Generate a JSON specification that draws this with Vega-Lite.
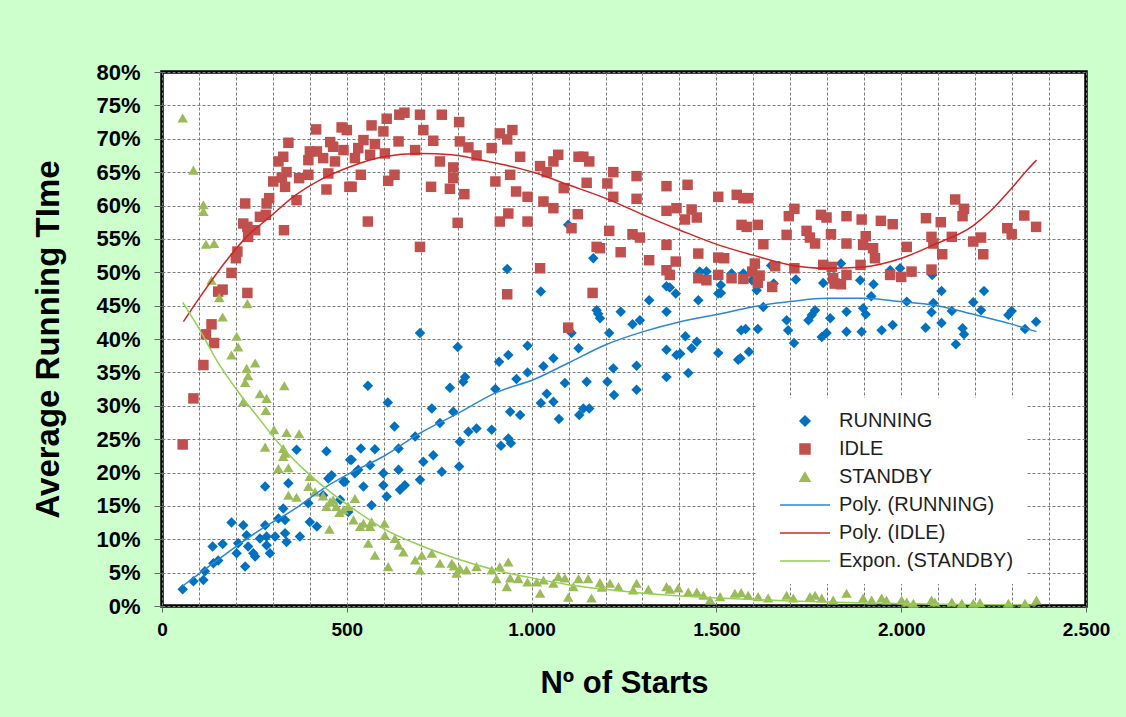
{
  "$schema": "https://vega.github.io/schema/vega-lite/v6.json",
  "autosize": "none",
  "width": 924,
  "height": 534,
  "padding": {"left": 162, "top": 72, "right": 40, "bottom": 111},
  "background": "#CCFFCC",
  "config": {
    "view": {"fill": "white", "stroke": "black", "strokeWidth": 3.5},
    "font": "Liberation Sans"
  },
  "datasets": {
    "pts": [
      {"series":"RUNNING","x":56,"y":2.5},{"series":"RUNNING","x":85,"y":3.7},{"series":"RUNNING","x":112,"y":3.9},{"series":"RUNNING","x":116,"y":5.2},{"series":"RUNNING","x":139,"y":6.4},{"series":"RUNNING","x":152,"y":6.8},{"series":"RUNNING","x":137,"y":8.9},{"series":"RUNNING","x":164,"y":9.3},{"series":"RUNNING","x":188,"y":12.5},{"series":"RUNNING","x":202,"y":7.9},{"series":"RUNNING","x":206,"y":9.4},{"series":"RUNNING","x":220,"y":12.1},{"series":"RUNNING","x":225,"y":5.9},{"series":"RUNNING","x":229,"y":10.6},{"series":"RUNNING","x":233,"y":8.9},{"series":"RUNNING","x":247,"y":7.9},{"series":"RUNNING","x":252,"y":7.4},{"series":"RUNNING","x":265,"y":10.1},{"series":"RUNNING","x":279,"y":12.1},{"series":"RUNNING","x":283,"y":10.4},{"series":"RUNNING","x":283,"y":9.1},{"series":"RUNNING","x":292,"y":7.9},{"series":"RUNNING","x":306,"y":10.4},{"series":"RUNNING","x":315,"y":13.1},{"series":"RUNNING","x":328,"y":14.6},{"series":"RUNNING","x":333,"y":12.9},{"series":"RUNNING","x":333,"y":10.9},{"series":"RUNNING","x":337,"y":9.6},{"series":"RUNNING","x":342,"y":18.4},{"series":"RUNNING","x":279,"y":17.9},{"series":"RUNNING","x":364,"y":23.4},{"series":"RUNNING","x":373,"y":10.4},{"series":"RUNNING","x":396,"y":15.4},{"series":"RUNNING","x":400,"y":12.6},{"series":"RUNNING","x":419,"y":11.9},{"series":"RUNNING","x":436,"y":16.6},{"series":"RUNNING","x":445,"y":23.2},{"series":"RUNNING","x":450,"y":19.1},{"series":"RUNNING","x":459,"y":19.6},{"series":"RUNNING","x":482,"y":15.9},{"series":"RUNNING","x":491,"y":18.6},{"series":"RUNNING","x":509,"y":21.9},{"series":"RUNNING","x":495,"y":18.6},{"series":"RUNNING","x":504,"y":14.1},{"series":"RUNNING","x":513,"y":21.9},{"series":"RUNNING","x":522,"y":19.9},{"series":"RUNNING","x":531,"y":20.4},{"series":"RUNNING","x":538,"y":23.6},{"series":"RUNNING","x":545,"y":17.9},{"series":"RUNNING","x":557,"y":33.0},{"series":"RUNNING","x":563,"y":21.1},{"series":"RUNNING","x":567,"y":15.1},{"series":"RUNNING","x":576,"y":23.5},{"series":"RUNNING","x":599,"y":19.9},{"series":"RUNNING","x":599,"y":18.1},{"series":"RUNNING","x":608,"y":16.4},{"series":"RUNNING","x":611,"y":30.5},{"series":"RUNNING","x":629,"y":26.9},{"series":"RUNNING","x":640,"y":23.6},{"series":"RUNNING","x":640,"y":20.4},{"series":"RUNNING","x":644,"y":17.4},{"series":"RUNNING","x":657,"y":18.1},{"series":"RUNNING","x":685,"y":25.4},{"series":"RUNNING","x":698,"y":40.9},{"series":"RUNNING","x":698,"y":18.9},{"series":"RUNNING","x":707,"y":21.6},{"series":"RUNNING","x":730,"y":29.6},{"series":"RUNNING","x":734,"y":22.6},{"series":"RUNNING","x":752,"y":27.4},{"series":"RUNNING","x":757,"y":20.1},{"series":"RUNNING","x":779,"y":32.7},{"series":"RUNNING","x":788,"y":29.1},{"series":"RUNNING","x":800,"y":38.8},{"series":"RUNNING","x":806,"y":24.6},{"series":"RUNNING","x":804,"y":20.9},{"series":"RUNNING","x":815,"y":33.6},{"series":"RUNNING","x":820,"y":34.3},{"series":"RUNNING","x":829,"y":26.1},{"series":"RUNNING","x":851,"y":26.6},{"series":"RUNNING","x":892,"y":26.4},{"series":"RUNNING","x":902,"y":32.5},{"series":"RUNNING","x":912,"y":36.6},{"series":"RUNNING","x":917,"y":24.0},{"series":"RUNNING","x":937,"y":37.6},{"series":"RUNNING","x":937,"y":25.1},{"series":"RUNNING","x":944,"y":24.4},{"series":"RUNNING","x":934,"y":50.5},{"series":"RUNNING","x":942,"y":29.1},{"series":"RUNNING","x":959,"y":34.0},{"series":"RUNNING","x":969,"y":28.6},{"series":"RUNNING","x":989,"y":39.0},{"series":"RUNNING","x":989,"y":35.0},{"series":"RUNNING","x":1025,"y":47.1},{"series":"RUNNING","x":1025,"y":30.4},{"series":"RUNNING","x":1032,"y":35.9},{"series":"RUNNING","x":1041,"y":31.8},{"series":"RUNNING","x":1059,"y":30.6},{"series":"RUNNING","x":1059,"y":37.1},{"series":"RUNNING","x":1074,"y":28.0},{"series":"RUNNING","x":1090,"y":33.4},{"series":"RUNNING","x":1099,"y":57.1},{"series":"RUNNING","x":1108,"y":40.9},{"series":"RUNNING","x":1127,"y":38.6},{"series":"RUNNING","x":1129,"y":28.6},{"series":"RUNNING","x":1140,"y":29.6},{"series":"RUNNING","x":1149,"y":33.6},{"series":"RUNNING","x":1156,"y":29.6},{"series":"RUNNING","x":1167,"y":52.1},{"series":"RUNNING","x":1176,"y":44.3},{"series":"RUNNING","x":1185,"y":43.1},{"series":"RUNNING","x":1180,"y":43.8},{"series":"RUNNING","x":1205,"y":33.6},{"series":"RUNNING","x":1210,"y":40.9},{"series":"RUNNING","x":1221,"y":35.6},{"series":"RUNNING","x":1223,"y":31.6},{"series":"RUNNING","x":1241,"y":44.1},{"series":"RUNNING","x":1273,"y":42.2},{"series":"RUNNING","x":1284,"y":36.0},{"series":"RUNNING","x":1284,"y":32.4},{"series":"RUNNING","x":1293,"y":42.8},{"series":"RUNNING","x":1318,"y":45.8},{"series":"RUNNING","x":1365,"y":47.9},{"series":"RUNNING","x":1374,"y":47.7},{"series":"RUNNING","x":1365,"y":44.1},{"series":"RUNNING","x":1365,"y":38.4},{"series":"RUNNING","x":1365,"y":34.3},{"series":"RUNNING","x":1390,"y":46.8},{"series":"RUNNING","x":1392,"y":37.6},{"series":"RUNNING","x":1402,"y":37.8},{"series":"RUNNING","x":1416,"y":40.4},{"series":"RUNNING","x":1424,"y":34.9},{"series":"RUNNING","x":1433,"y":38.6},{"series":"RUNNING","x":1447,"y":39.6},{"series":"RUNNING","x":1451,"y":45.8},{"series":"RUNNING","x":1455,"y":50.1},{"series":"RUNNING","x":1473,"y":50.1},{"series":"RUNNING","x":1505,"y":46.8},{"series":"RUNNING","x":1505,"y":37.9},{"series":"RUNNING","x":1512,"y":48.1},{"series":"RUNNING","x":1512,"y":46.9},{"series":"RUNNING","x":1541,"y":49.8},{"series":"RUNNING","x":1573,"y":49.8},{"series":"RUNNING","x":1559,"y":36.9},{"series":"RUNNING","x":1565,"y":37.1},{"series":"RUNNING","x":1588,"y":38.1},{"series":"RUNNING","x":1567,"y":41.3},{"series":"RUNNING","x":1579,"y":41.5},{"series":"RUNNING","x":1612,"y":41.5},{"series":"RUNNING","x":1596,"y":48.8},{"series":"RUNNING","x":1609,"y":47.3},{"series":"RUNNING","x":1627,"y":44.8},{"series":"RUNNING","x":1648,"y":51.0},{"series":"RUNNING","x":1655,"y":48.3},{"series":"RUNNING","x":1690,"y":42.8},{"series":"RUNNING","x":1694,"y":41.3},{"series":"RUNNING","x":1710,"y":39.4},{"series":"RUNNING","x":1715,"y":48.9},{"series":"RUNNING","x":1749,"y":42.8},{"series":"RUNNING","x":1758,"y":43.6},{"series":"RUNNING","x":1767,"y":44.3},{"series":"RUNNING","x":1785,"y":40.3},{"series":"RUNNING","x":1798,"y":40.9},{"series":"RUNNING","x":1789,"y":48.4},{"series":"RUNNING","x":1808,"y":43.1},{"series":"RUNNING","x":1837,"y":51.3},{"series":"RUNNING","x":1852,"y":44.1},{"series":"RUNNING","x":1852,"y":41.1},{"series":"RUNNING","x":1893,"y":41.1},{"series":"RUNNING","x":1889,"y":48.8},{"series":"RUNNING","x":1897,"y":44.6},{"series":"RUNNING","x":1904,"y":43.7},{"series":"RUNNING","x":1925,"y":48.2},{"series":"RUNNING","x":1919,"y":46.4},{"series":"RUNNING","x":1947,"y":41.3},{"series":"RUNNING","x":1977,"y":42.1},{"series":"RUNNING","x":1970,"y":50.3},{"series":"RUNNING","x":1997,"y":50.6},{"series":"RUNNING","x":2015,"y":45.6},{"series":"RUNNING","x":2028,"y":50.0},{"series":"RUNNING","x":2084,"y":49.6},{"series":"RUNNING","x":2087,"y":45.4},{"series":"RUNNING","x":2082,"y":44.0},{"series":"RUNNING","x":2066,"y":41.7},{"series":"RUNNING","x":2109,"y":47.2},{"series":"RUNNING","x":2109,"y":42.4},{"series":"RUNNING","x":2137,"y":44.2},{"series":"RUNNING","x":2148,"y":39.2},{"series":"RUNNING","x":2166,"y":41.6},{"series":"RUNNING","x":2170,"y":40.7},{"series":"RUNNING","x":2195,"y":45.5},{"series":"RUNNING","x":2216,"y":44.3},{"series":"RUNNING","x":2224,"y":47.2},{"series":"RUNNING","x":2290,"y":43.6},{"series":"RUNNING","x":2299,"y":44.2},{"series":"RUNNING","x":2335,"y":41.5},{"series":"RUNNING","x":2365,"y":42.6},
      {"series":"IDLE","x":56,"y":24.2},{"series":"IDLE","x":85,"y":31.1},{"series":"IDLE","x":112,"y":36.1},{"series":"IDLE","x":119,"y":40.7},{"series":"IDLE","x":134,"y":42.2},{"series":"IDLE","x":141,"y":39.4},{"series":"IDLE","x":152,"y":47.1},{"series":"IDLE","x":164,"y":47.4},{"series":"IDLE","x":188,"y":49.9},{"series":"IDLE","x":200,"y":52.1},{"series":"IDLE","x":204,"y":53.1},{"series":"IDLE","x":231,"y":46.9},{"series":"IDLE","x":220,"y":57.3},{"series":"IDLE","x":231,"y":56.8},{"series":"IDLE","x":225,"y":60.3},{"series":"IDLE","x":233,"y":55.3},{"series":"IDLE","x":252,"y":56.3},{"series":"IDLE","x":265,"y":58.3},{"series":"IDLE","x":281,"y":58.6},{"series":"IDLE","x":283,"y":60.3},{"series":"IDLE","x":290,"y":61.1},{"series":"IDLE","x":330,"y":56.3},{"series":"IDLE","x":301,"y":63.6},{"series":"IDLE","x":315,"y":66.6},{"series":"IDLE","x":328,"y":67.3},{"series":"IDLE","x":342,"y":69.4},{"series":"IDLE","x":324,"y":64.2},{"series":"IDLE","x":337,"y":65.0},{"series":"IDLE","x":333,"y":62.8},{"series":"IDLE","x":364,"y":60.8},{"series":"IDLE","x":371,"y":64.1},{"series":"IDLE","x":396,"y":64.6},{"series":"IDLE","x":396,"y":66.8},{"series":"IDLE","x":400,"y":68.1},{"series":"IDLE","x":417,"y":71.4},{"series":"IDLE","x":419,"y":68.1},{"series":"IDLE","x":436,"y":67.1},{"series":"IDLE","x":445,"y":62.4},{"series":"IDLE","x":450,"y":64.8},{"series":"IDLE","x":455,"y":69.5},{"series":"IDLE","x":463,"y":68.8},{"series":"IDLE","x":468,"y":66.6},{"series":"IDLE","x":486,"y":71.7},{"series":"IDLE","x":491,"y":68.3},{"series":"IDLE","x":507,"y":62.8},{"series":"IDLE","x":500,"y":71.3},{"series":"IDLE","x":513,"y":62.8},{"series":"IDLE","x":522,"y":67.1},{"series":"IDLE","x":531,"y":68.6},{"series":"IDLE","x":545,"y":69.8},{"series":"IDLE","x":538,"y":64.6},{"series":"IDLE","x":557,"y":57.6},{"series":"IDLE","x":563,"y":67.6},{"series":"IDLE","x":567,"y":72.0},{"series":"IDLE","x":576,"y":69.2},{"series":"IDLE","x":599,"y":71.1},{"series":"IDLE","x":603,"y":67.8},{"series":"IDLE","x":608,"y":73.0},{"series":"IDLE","x":612,"y":63.7},{"series":"IDLE","x":629,"y":64.6},{"series":"IDLE","x":640,"y":69.6},{"series":"IDLE","x":642,"y":73.6},{"series":"IDLE","x":656,"y":73.9},{"series":"IDLE","x":685,"y":68.3},{"series":"IDLE","x":698,"y":73.6},{"series":"IDLE","x":698,"y":53.8},{"series":"IDLE","x":707,"y":71.3},{"series":"IDLE","x":728,"y":62.8},{"series":"IDLE","x":734,"y":69.7},{"series":"IDLE","x":752,"y":66.6},{"series":"IDLE","x":757,"y":73.6},{"series":"IDLE","x":779,"y":62.5},{"series":"IDLE","x":788,"y":65.7},{"series":"IDLE","x":788,"y":64.1},{"series":"IDLE","x":800,"y":57.4},{"series":"IDLE","x":804,"y":72.5},{"series":"IDLE","x":806,"y":69.6},{"series":"IDLE","x":818,"y":61.7},{"series":"IDLE","x":829,"y":68.7},{"series":"IDLE","x":851,"y":67.5},{"series":"IDLE","x":892,"y":68.6},{"series":"IDLE","x":902,"y":63.6},{"series":"IDLE","x":914,"y":70.8},{"series":"IDLE","x":914,"y":57.6},{"series":"IDLE","x":934,"y":69.9},{"series":"IDLE","x":942,"y":64.6},{"series":"IDLE","x":937,"y":58.8},{"series":"IDLE","x":934,"y":46.7},{"series":"IDLE","x":948,"y":71.3},{"series":"IDLE","x":958,"y":62.1},{"series":"IDLE","x":969,"y":67.3},{"series":"IDLE","x":989,"y":61.3},{"series":"IDLE","x":989,"y":57.6},{"series":"IDLE","x":1023,"y":65.9},{"series":"IDLE","x":1023,"y":50.6},{"series":"IDLE","x":1032,"y":60.6},{"series":"IDLE","x":1041,"y":65.0},{"series":"IDLE","x":1059,"y":66.6},{"series":"IDLE","x":1059,"y":59.6},{"series":"IDLE","x":1072,"y":67.6},{"series":"IDLE","x":1087,"y":62.6},{"series":"IDLE","x":1099,"y":41.7},{"series":"IDLE","x":1108,"y":56.6},{"series":"IDLE","x":1125,"y":58.7},{"series":"IDLE","x":1127,"y":67.3},{"series":"IDLE","x":1140,"y":67.3},{"series":"IDLE","x":1156,"y":66.6},{"series":"IDLE","x":1149,"y":63.4},{"series":"IDLE","x":1165,"y":46.9},{"series":"IDLE","x":1176,"y":53.8},{"series":"IDLE","x":1185,"y":53.6},{"series":"IDLE","x":1205,"y":63.3},{"series":"IDLE","x":1210,"y":56.2},{"series":"IDLE","x":1221,"y":65.0},{"series":"IDLE","x":1221,"y":61.3},{"series":"IDLE","x":1241,"y":53.0},{"series":"IDLE","x":1273,"y":55.7},{"series":"IDLE","x":1284,"y":64.4},{"series":"IDLE","x":1284,"y":61.0},{"series":"IDLE","x":1293,"y":55.2},{"series":"IDLE","x":1318,"y":51.8},{"series":"IDLE","x":1365,"y":62.9},{"series":"IDLE","x":1365,"y":59.2},{"series":"IDLE","x":1365,"y":54.1},{"series":"IDLE","x":1365,"y":50.3},{"series":"IDLE","x":1374,"y":49.6},{"series":"IDLE","x":1392,"y":59.6},{"series":"IDLE","x":1390,"y":51.6},{"series":"IDLE","x":1415,"y":57.9},{"series":"IDLE","x":1422,"y":63.1},{"series":"IDLE","x":1433,"y":59.4},{"series":"IDLE","x":1447,"y":58.2},{"series":"IDLE","x":1451,"y":52.8},{"series":"IDLE","x":1451,"y":49.1},{"series":"IDLE","x":1473,"y":48.8},{"series":"IDLE","x":1505,"y":61.3},{"series":"IDLE","x":1505,"y":52.2},{"series":"IDLE","x":1505,"y":49.6},{"series":"IDLE","x":1555,"y":61.6},{"series":"IDLE","x":1573,"y":61.1},{"series":"IDLE","x":1586,"y":61.1},{"series":"IDLE","x":1568,"y":57.1},{"series":"IDLE","x":1582,"y":56.8},{"series":"IDLE","x":1612,"y":57.1},{"series":"IDLE","x":1627,"y":54.2},{"series":"IDLE","x":1521,"y":52.1},{"series":"IDLE","x":1541,"y":49.1},{"series":"IDLE","x":1573,"y":49.0},{"series":"IDLE","x":1597,"y":50.1},{"series":"IDLE","x":1604,"y":51.3},{"series":"IDLE","x":1612,"y":48.4},{"series":"IDLE","x":1617,"y":49.5},{"series":"IDLE","x":1651,"y":47.8},{"series":"IDLE","x":1659,"y":50.9},{"series":"IDLE","x":1690,"y":55.6},{"series":"IDLE","x":1696,"y":58.4},{"series":"IDLE","x":1711,"y":59.5},{"series":"IDLE","x":1711,"y":50.6},{"series":"IDLE","x":1744,"y":56.2},{"series":"IDLE","x":1753,"y":55.2},{"series":"IDLE","x":1767,"y":54.3},{"series":"IDLE","x":1783,"y":58.6},{"series":"IDLE","x":1798,"y":58.2},{"series":"IDLE","x":1810,"y":55.7},{"series":"IDLE","x":1789,"y":51.1},{"series":"IDLE","x":1812,"y":50.8},{"series":"IDLE","x":1816,"y":49.1},{"series":"IDLE","x":1820,"y":48.3},{"series":"IDLE","x":1837,"y":48.2},{"series":"IDLE","x":1852,"y":58.4},{"series":"IDLE","x":1852,"y":54.3},{"series":"IDLE","x":1852,"y":49.6},{"series":"IDLE","x":1890,"y":51.1},{"series":"IDLE","x":1893,"y":57.9},{"series":"IDLE","x":1904,"y":55.4},{"series":"IDLE","x":1897,"y":54.1},{"series":"IDLE","x":1924,"y":53.6},{"series":"IDLE","x":1929,"y":52.1},{"series":"IDLE","x":1945,"y":57.7},{"series":"IDLE","x":1977,"y":57.2},{"series":"IDLE","x":1970,"y":49.6},{"series":"IDLE","x":2000,"y":49.3},{"series":"IDLE","x":2015,"y":53.8},{"series":"IDLE","x":2028,"y":50.1},{"series":"IDLE","x":2067,"y":58.1},{"series":"IDLE","x":2082,"y":55.3},{"series":"IDLE","x":2087,"y":54.3},{"series":"IDLE","x":2082,"y":50.4},{"series":"IDLE","x":2107,"y":57.5},{"series":"IDLE","x":2111,"y":52.7},{"series":"IDLE","x":2137,"y":55.3},{"series":"IDLE","x":2146,"y":60.9},{"series":"IDLE","x":2170,"y":59.5},{"series":"IDLE","x":2166,"y":58.4},{"series":"IDLE","x":2195,"y":54.6},{"series":"IDLE","x":2216,"y":55.2},{"series":"IDLE","x":2222,"y":52.7},{"series":"IDLE","x":2287,"y":56.6},{"series":"IDLE","x":2299,"y":55.7},{"series":"IDLE","x":2333,"y":58.5},{"series":"IDLE","x":2365,"y":56.8},
      {"series":"STANDBY","x":56,"y":73.1},{"series":"STANDBY","x":85,"y":65.3},{"series":"STANDBY","x":112,"y":60.1},{"series":"STANDBY","x":112,"y":59.1},{"series":"STANDBY","x":119,"y":54.2},{"series":"STANDBY","x":141,"y":54.3},{"series":"STANDBY","x":134,"y":48.8},{"series":"STANDBY","x":155,"y":46.2},{"series":"STANDBY","x":164,"y":43.3},{"series":"STANDBY","x":231,"y":45.3},{"series":"STANDBY","x":202,"y":40.4},{"series":"STANDBY","x":206,"y":38.8},{"series":"STANDBY","x":188,"y":37.6},{"series":"STANDBY","x":229,"y":35.6},{"series":"STANDBY","x":252,"y":36.4},{"series":"STANDBY","x":225,"y":33.5},{"series":"STANDBY","x":233,"y":34.5},{"series":"STANDBY","x":220,"y":30.6},{"series":"STANDBY","x":265,"y":31.8},{"series":"STANDBY","x":283,"y":31.1},{"series":"STANDBY","x":281,"y":29.3},{"series":"STANDBY","x":331,"y":33.0},{"series":"STANDBY","x":303,"y":26.4},{"series":"STANDBY","x":337,"y":26.0},{"series":"STANDBY","x":371,"y":25.8},{"series":"STANDBY","x":279,"y":23.8},{"series":"STANDBY","x":328,"y":23.6},{"series":"STANDBY","x":328,"y":22.4},{"series":"STANDBY","x":333,"y":22.9},{"series":"STANDBY","x":315,"y":20.6},{"series":"STANDBY","x":342,"y":20.7},{"series":"STANDBY","x":400,"y":19.4},{"series":"STANDBY","x":396,"y":17.9},{"series":"STANDBY","x":342,"y":16.6},{"series":"STANDBY","x":364,"y":16.3},{"series":"STANDBY","x":414,"y":17.1},{"series":"STANDBY","x":436,"y":16.5},{"series":"STANDBY","x":455,"y":15.6},{"series":"STANDBY","x":463,"y":15.9},{"series":"STANDBY","x":445,"y":14.9},{"series":"STANDBY","x":472,"y":14.9},{"series":"STANDBY","x":491,"y":14.4},{"series":"STANDBY","x":453,"y":11.5},{"series":"STANDBY","x":480,"y":14.0},{"series":"STANDBY","x":504,"y":14.9},{"series":"STANDBY","x":522,"y":16.1},{"series":"STANDBY","x":518,"y":12.9},{"series":"STANDBY","x":536,"y":11.9},{"series":"STANDBY","x":545,"y":12.4},{"series":"STANDBY","x":563,"y":11.9},{"series":"STANDBY","x":567,"y":12.6},{"series":"STANDBY","x":558,"y":9.4},{"series":"STANDBY","x":576,"y":7.6},{"series":"STANDBY","x":602,"y":12.4},{"series":"STANDBY","x":603,"y":10.6},{"series":"STANDBY","x":612,"y":5.9},{"series":"STANDBY","x":630,"y":10.1},{"series":"STANDBY","x":640,"y":9.1},{"series":"STANDBY","x":653,"y":8.1},{"series":"STANDBY","x":685,"y":6.9},{"series":"STANDBY","x":698,"y":5.4},{"series":"STANDBY","x":703,"y":7.6},{"series":"STANDBY","x":730,"y":7.9},{"series":"STANDBY","x":752,"y":6.4},{"series":"STANDBY","x":784,"y":6.4},{"series":"STANDBY","x":797,"y":4.9},{"series":"STANDBY","x":790,"y":6.0},{"series":"STANDBY","x":806,"y":5.6},{"series":"STANDBY","x":824,"y":5.4},{"series":"STANDBY","x":851,"y":5.9},{"series":"STANDBY","x":892,"y":5.4},{"series":"STANDBY","x":905,"y":4.1},{"series":"STANDBY","x":914,"y":5.9},{"series":"STANDBY","x":937,"y":6.6},{"series":"STANDBY","x":933,"y":2.9},{"series":"STANDBY","x":942,"y":4.2},{"series":"STANDBY","x":964,"y":4.1},{"series":"STANDBY","x":989,"y":3.6},{"series":"STANDBY","x":1014,"y":3.6},{"series":"STANDBY","x":1032,"y":3.9},{"series":"STANDBY","x":1023,"y":1.9},{"series":"STANDBY","x":1059,"y":3.4},{"series":"STANDBY","x":1072,"y":4.4},{"series":"STANDBY","x":1090,"y":4.2},{"series":"STANDBY","x":1099,"y":1.3},{"series":"STANDBY","x":1113,"y":2.9},{"series":"STANDBY","x":1127,"y":4.1},{"series":"STANDBY","x":1153,"y":4.1},{"series":"STANDBY","x":1162,"y":1.2},{"series":"STANDBY","x":1185,"y":3.5},{"series":"STANDBY","x":1190,"y":2.8},{"series":"STANDBY","x":1212,"y":3.4},{"series":"STANDBY","x":1235,"y":2.9},{"series":"STANDBY","x":1275,"y":2.4},{"series":"STANDBY","x":1284,"y":3.4},{"series":"STANDBY","x":1316,"y":2.5},{"series":"STANDBY","x":1365,"y":2.9},{"series":"STANDBY","x":1374,"y":2.5},{"series":"STANDBY","x":1397,"y":2.7},{"series":"STANDBY","x":1424,"y":2.1},{"series":"STANDBY","x":1447,"y":2.1},{"series":"STANDBY","x":1465,"y":1.6},{"series":"STANDBY","x":1483,"y":0.9},{"series":"STANDBY","x":1510,"y":1.4},{"series":"STANDBY","x":1550,"y":1.9},{"series":"STANDBY","x":1567,"y":2.0},{"series":"STANDBY","x":1586,"y":1.6},{"series":"STANDBY","x":1613,"y":1.4},{"series":"STANDBY","x":1640,"y":1.2},{"series":"STANDBY","x":1690,"y":1.6},{"series":"STANDBY","x":1708,"y":1.2},{"series":"STANDBY","x":1753,"y":1.4},{"series":"STANDBY","x":1767,"y":1.6},{"series":"STANDBY","x":1785,"y":1.2},{"series":"STANDBY","x":1816,"y":0.9},{"series":"STANDBY","x":1852,"y":1.9},{"series":"STANDBY","x":1897,"y":1.2},{"series":"STANDBY","x":1920,"y":0.9},{"series":"STANDBY","x":1947,"y":1.2},{"series":"STANDBY","x":1960,"y":0.9},{"series":"STANDBY","x":2001,"y":0.9},{"series":"STANDBY","x":2015,"y":0.6},{"series":"STANDBY","x":2033,"y":0.4},{"series":"STANDBY","x":2082,"y":0.9},{"series":"STANDBY","x":2091,"y":0.6},{"series":"STANDBY","x":2137,"y":0.6},{"series":"STANDBY","x":2164,"y":0.4},{"series":"STANDBY","x":2195,"y":0.4},{"series":"STANDBY","x":2213,"y":0.5},{"series":"STANDBY","x":2290,"y":0.4},{"series":"STANDBY","x":2335,"y":0.4},{"series":"STANDBY","x":2366,"y":0.9}
    ],
    "trend": [
      {"series":"Poly. (RUNNING)","x":56,"y":3.0},{"series":"Poly. (RUNNING)","x":175,"y":7.9},{"series":"Poly. (RUNNING)","x":265,"y":11.4},{"series":"Poly. (RUNNING)","x":355,"y":14.4},{"series":"Poly. (RUNNING)","x":445,"y":17.9},{"series":"Poly. (RUNNING)","x":509,"y":19.9},{"series":"Poly. (RUNNING)","x":599,"y":22.4},{"series":"Poly. (RUNNING)","x":698,"y":25.9},{"series":"Poly. (RUNNING)","x":802,"y":28.9},{"series":"Poly. (RUNNING)","x":901,"y":31.9},{"series":"Poly. (RUNNING)","x":1009,"y":34.0},{"series":"Poly. (RUNNING)","x":1099,"y":36.4},{"series":"Poly. (RUNNING)","x":1199,"y":39.1},{"series":"Poly. (RUNNING)","x":1302,"y":41.1},{"series":"Poly. (RUNNING)","x":1402,"y":42.6},{"series":"Poly. (RUNNING)","x":1505,"y":43.7},{"series":"Poly. (RUNNING)","x":1596,"y":44.8},{"series":"Poly. (RUNNING)","x":1699,"y":45.6},{"series":"Poly. (RUNNING)","x":1798,"y":46.1},{"series":"Poly. (RUNNING)","x":1897,"y":46.1},{"series":"Poly. (RUNNING)","x":2001,"y":45.6},{"series":"Poly. (RUNNING)","x":2087,"y":45.1},{"series":"Poly. (RUNNING)","x":2195,"y":43.7},{"series":"Poly. (RUNNING)","x":2294,"y":42.3},{"series":"Poly. (RUNNING)","x":2366,"y":41.1},
      {"series":"Poly. (IDLE)","x":58,"y":42.6},{"series":"Poly. (IDLE)","x":103,"y":46.3},{"series":"Poly. (IDLE)","x":175,"y":51.8},{"series":"Poly. (IDLE)","x":229,"y":55.3},{"series":"Poly. (IDLE)","x":292,"y":58.3},{"series":"Poly. (IDLE)","x":355,"y":61.3},{"series":"Poly. (IDLE)","x":427,"y":63.8},{"series":"Poly. (IDLE)","x":509,"y":65.8},{"series":"Poly. (IDLE)","x":599,"y":67.3},{"series":"Poly. (IDLE)","x":698,"y":67.8},{"series":"Poly. (IDLE)","x":784,"y":67.6},{"series":"Poly. (IDLE)","x":856,"y":66.9},{"series":"Poly. (IDLE)","x":1009,"y":64.9},{"series":"Poly. (IDLE)","x":1099,"y":63.1},{"series":"Poly. (IDLE)","x":1199,"y":61.1},{"series":"Poly. (IDLE)","x":1302,"y":58.6},{"series":"Poly. (IDLE)","x":1402,"y":56.3},{"series":"Poly. (IDLE)","x":1505,"y":54.1},{"series":"Poly. (IDLE)","x":1596,"y":52.6},{"series":"Poly. (IDLE)","x":1699,"y":51.1},{"series":"Poly. (IDLE)","x":1798,"y":50.6},{"series":"Poly. (IDLE)","x":1897,"y":50.8},{"series":"Poly. (IDLE)","x":2001,"y":52.1},{"series":"Poly. (IDLE)","x":2087,"y":54.1},{"series":"Poly. (IDLE)","x":2195,"y":57.0},{"series":"Poly. (IDLE)","x":2240,"y":59.1},{"series":"Poly. (IDLE)","x":2294,"y":62.3},{"series":"Poly. (IDLE)","x":2344,"y":65.5},{"series":"Poly. (IDLE)","x":2366,"y":66.8},
      {"series":"Expon. (STANDBY)","x":56,"y":45.5},{"series":"Expon. (STANDBY)","x":103,"y":41.3},{"series":"Expon. (STANDBY)","x":148,"y":36.8},{"series":"Expon. (STANDBY)","x":202,"y":32.4},{"series":"Expon. (STANDBY)","x":265,"y":27.9},{"series":"Expon. (STANDBY)","x":328,"y":23.6},{"series":"Expon. (STANDBY)","x":391,"y":20.1},{"series":"Expon. (STANDBY)","x":455,"y":17.1},{"series":"Expon. (STANDBY)","x":509,"y":14.9},{"series":"Expon. (STANDBY)","x":599,"y":11.6},{"series":"Expon. (STANDBY)","x":698,"y":9.1},{"series":"Expon. (STANDBY)","x":802,"y":7.0},{"series":"Expon. (STANDBY)","x":901,"y":5.4},{"series":"Expon. (STANDBY)","x":1009,"y":4.1},{"series":"Expon. (STANDBY)","x":1099,"y":3.2},{"series":"Expon. (STANDBY)","x":1199,"y":2.5},{"series":"Expon. (STANDBY)","x":1302,"y":1.9},{"series":"Expon. (STANDBY)","x":1402,"y":1.5},{"series":"Expon. (STANDBY)","x":1505,"y":1.2},{"series":"Expon. (STANDBY)","x":1700,"y":0.75},{"series":"Expon. (STANDBY)","x":1900,"y":0.45},{"series":"Expon. (STANDBY)","x":2100,"y":0.28},{"series":"Expon. (STANDBY)","x":2366,"y":0.15}
    ]
  },
  "encoding": {
    "x": {
      "field": "x", "type": "quantitative",
      "scale": {"domain": [0, 2500], "nice": false, "zero": false},
      "axis": {
        "values": [0,100,200,300,400,500,600,700,800,900,1000,1100,1200,1300,1400,1500,1600,1700,1800,1900,2000,2100,2200,2300,2400,2500],
        "labelExpr": "datum.value % 500 === 0 ? replace(format(datum.value, ','), ',', '.') : ''",
        "labelOverlap": false, "labelFlush": false, "labelBound": false,
        "labelFont": "Liberation Sans", "labelFontSize": 19, "labelFontWeight": "bold", "labelColor": "black",
        "labelPadding": 8,
        "tickSize": 6, "tickColor": "#666",
        "tickOpacity": {"condition": {"test": "datum.value % 500 === 0", "value": 1}, "value": 0},
        "grid": true, "gridColor": "#7a7a7a", "gridDash": [3, 2], "gridWidth": 1,
        "domain": false,
        "title": "Nº of Starts",
        "titleFont": "Liberation Sans", "titleFontSize": 31, "titleFontWeight": "bold", "titleColor": "black",
        "titlePadding": 29
      }
    },
    "y": {
      "field": "y", "type": "quantitative",
      "scale": {"domain": [0, 80], "nice": false},
      "axis": {
        "values": [0,5,10,15,20,25,30,35,40,45,50,55,60,65,70,75,80],
        "labelExpr": "datum.value + '%'",
        "labelOverlap": false, "labelFlush": false, "labelBound": false,
        "labelFont": "Liberation Sans", "labelFontSize": 22, "labelFontWeight": "bold", "labelColor": "black",
        "labelPadding": 14,
        "tickSize": 8, "tickColor": "#666",
        "grid": true, "gridColor": "#7a7a7a", "gridDash": [3, 2], "gridWidth": 1,
        "domain": false,
        "title": "Average Running TIme",
        "titleFont": "Liberation Sans", "titleFontSize": 33, "titleFontWeight": "bold", "titleColor": "black",
        "titlePadding": 30
      }
    }
  },
  "layer": [
    {
      "data": {"name": "pts"},
      "mark": {"type": "point", "filled": true, "size": 110, "opacity": 1},
      "encoding": {
        "color": {
          "field": "series", "type": "nominal",
          "scale": {
            "domain": ["RUNNING", "IDLE", "STANDBY", "Poly. (RUNNING)", "Poly. (IDLE)", "Expon. (STANDBY)"],
            "range": ["#0070C0", "#C0504D", "#9BBB59", "#2A86D8", "#D02424", "#92D050"]
          },
          "legend": {
            "title": null, "orient": "none", "legendX": 595, "legendY": 326,
            "fillColor": "white", "padding": 13,
            "labelFont": "Liberation Sans", "labelFontSize": 20, "labelColor": "#1f1f1f", "labelLimit": 0,
            "symbolSize": 100, "symbolStrokeWidth": 1.5, "symbolOpacity": 1,
            "symbolOffset": 25, "labelOffset": 24, "rowPadding": 8,
            "encode": {"symbols": {"update": {"stroke": {"scale": "color", "field": "value"}, "strokeWidth": {"value": 1.5}}}}
          }
        },
        "shape": {
          "field": "series", "type": "nominal",
          "scale": {
            "domain": ["RUNNING", "IDLE", "STANDBY", "Poly. (RUNNING)", "Poly. (IDLE)", "Expon. (STANDBY)"],
            "range": ["diamond", "square", "triangle-up", "M-5,0H5", "M-5,0H5", "M-5,0H5"]
          },
          "legend": {
            "title": null, "orient": "none", "legendX": 595, "legendY": 326,
            "fillColor": "white", "padding": 13,
            "labelFont": "Liberation Sans", "labelFontSize": 20, "labelColor": "#1f1f1f", "labelLimit": 0,
            "symbolSize": 100, "symbolStrokeWidth": 1.5, "symbolOpacity": 1,
            "symbolOffset": 25, "labelOffset": 24, "rowPadding": 8,
            "encode": {"symbols": {"update": {"stroke": {"scale": "color", "field": "value"}, "strokeWidth": {"value": 1.5}}}}
          }
        }
      }
    },
    {
      "data": {"name": "trend"},
      "mark": {"type": "line", "strokeWidth": 1.5, "interpolate": "monotone"},
      "encoding": {
        "color": {"field": "series", "type": "nominal", "legend": null}
      }
    }
  ]
}
